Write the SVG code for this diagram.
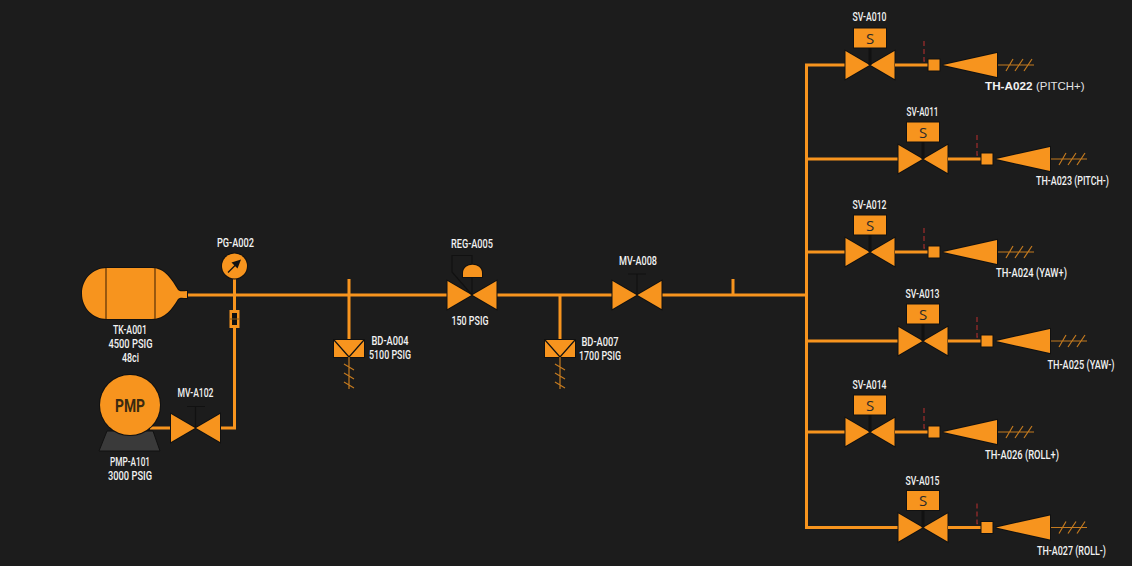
<svg xmlns="http://www.w3.org/2000/svg" width="1132" height="566" viewBox="0 0 1132 566">
<style>
.p{fill:none;stroke:#f7941e;stroke-width:3}
.f{fill:#f7941e;stroke:#111;stroke-width:2;paint-order:stroke}
.k{fill:none;stroke:#111;stroke-width:1.2}
.h{fill:none;stroke:#c47a1f;stroke-width:1.2}
.d{fill:none;stroke:#8e2a2a;stroke-width:1.4;stroke-dasharray:5 3}
text{font-family:"Roboto","Liberation Sans",sans-serif;font-size:12px;font-weight:500;fill:#f2f2f2;text-anchor:middle}
.s{font-family:"Open Sans","Liberation Sans",sans-serif;font-size:15px;font-weight:400;fill:#2a2a2a}
.w{font-family:"Liberation Sans",Arial,sans-serif;font-size:11.500px;font-weight:700;text-anchor:start}
.n{font-family:"Liberation Sans",Arial,sans-serif;font-size:11.500px;font-weight:400;text-anchor:start;fill:#e4e4e4}
</style>
<defs>
<g id="valve"><path class="f" d="M-24.500-14L-.5 0L-24.500 14ZM24.500-14L.5 0L24.500 14Z"/></g>
<g id="sol"><use href="#valve"/><path d="M0-18V0" stroke="#111" stroke-width="3"/><rect class="f" x="-16" y="-36.500" width="32" height="19"/><text class="s" x="0" y="-21.500">S</text></g>
<g id="thr"><path class="d" d="M54-24V-4H58"/><path class="p" d="M25 0H58"/><rect class="f" x="58.500" y="-5.500" width="11" height="11"/><path class="f" d="M73 0L127-12V12Z"/><path class="h" d="M128 0H164M136 6L143-6M145 6L153-6M154 6L162-6"/></g>
<g id="bd"><rect class="f" x="-15" y="0" width="30" height="17"/><path class="k" d="M-15 0L0 17L15 0"/><path class="h" d="M0 17V49M-5 24L5 30M-5 33L5 39M-5 42L5 48"/></g>
</defs>
<rect width="1132" height="566" fill="#1c1c1c"/>
<g id="connectors">
<path class="p" d="M186 295H448M496 295H613M661 295H806M234.500 279V428H220M172 428H150M349 279V342M560 295V342M733 279V295"/>
<path class="p" d="M846 65H806.500V527.500H899M806 159H899M806 252H846M806 341H899M806 432H846"/>
</g>
<g id="TK-A001"><path class="f" d="M107 268H152C165 268 172 280 178 290C180 292 183 291 187 291V298C183 298 180 297 178 299C172 309 165 319 152 319H107C93 319 82 308 82 293.500C82 279 93 268 107 268Z"/><path d="M106 268V319M155 268V319" stroke="#5a3208" stroke-width="1.200"/><text x="130" y="334" textLength="34" lengthAdjust="spacingAndGlyphs">TK-A001</text><text x="130.500" y="348" textLength="44" lengthAdjust="spacingAndGlyphs">4500 PSIG</text><text x="130.500" y="362" textLength="17" lengthAdjust="spacingAndGlyphs">48ci</text></g>
<g id="PG-A002"><circle class="f" cx="234.500" cy="266" r="12.500"/><path d="M228 272.500L237 263.500" stroke="#111" stroke-width="1.300"/><path d="M241 259.500L231.500 262.500L237.500 268.500Z" fill="#111"/><text x="235.500" y="247" textLength="37" lengthAdjust="spacingAndGlyphs">PG-A002</text></g>
<g id="sight"><rect x="229.500" y="310" width="10" height="18" fill="#f7941e"/><rect x="232" y="313" width="5" height="12" fill="#111"/><path d="M229 319H240" stroke="#8a5a1a" stroke-width="1"/></g>
<g id="PMP-A101"><path d="M107 431L153 431L160 451H99Z" fill="#3a3a3a" stroke="#111"/><circle class="f" cx="130" cy="405" r="30"/><text x="130" y="412" style="font-size:19px;font-weight:700;fill:#3a2a10" textLength="30" lengthAdjust="spacingAndGlyphs">PMP</text><text x="130" y="466" textLength="40" lengthAdjust="spacingAndGlyphs">PMP-A101</text><text x="130" y="480" textLength="44" lengthAdjust="spacingAndGlyphs">3000 PSIG</text></g>
<g id="MV-A102"><use href="#valve" x="195.500" y="428"/><path class="k" d="M195.500 428V406.500M187 406.500H205"/><text x="195.500" y="397" textLength="36" lengthAdjust="spacingAndGlyphs">MV-A102</text></g>
<g id="BD-A004"><use href="#bd" x="349" y="340"/><text x="390" y="345" textLength="37" lengthAdjust="spacingAndGlyphs">BD-A004</text><text x="390" y="359" textLength="42" lengthAdjust="spacingAndGlyphs">5100 PSIG</text></g>
<g id="REG-A005"><use href="#valve" x="472" y="295"/><path class="k" d="M472 295L452 272V255.500H472V265M472 277V295"/><path class="f" d="M463 277V273C463 262 482 262 482 273V277Z"/><text x="472" y="248" textLength="42" lengthAdjust="spacingAndGlyphs">REG-A005</text><text x="470" y="325" textLength="37" lengthAdjust="spacingAndGlyphs">150 PSIG</text></g>
<g id="BD-A007"><use href="#bd" x="560" y="340"/><text x="600" y="346" textLength="37" lengthAdjust="spacingAndGlyphs">BD-A007</text><text x="600" y="360" textLength="42" lengthAdjust="spacingAndGlyphs">1700 PSIG</text></g>
<g id="MV-A008"><use href="#valve" x="637" y="295"/><path class="k" d="M637 295V274M628 274H646"/><text x="638" y="265" textLength="38" lengthAdjust="spacingAndGlyphs">MV-A008</text></g>
<g id="SV-A010"><use href="#sol" x="870" y="65"/><use href="#thr" x="870" y="65"/><text x="869.500" y="21" textLength="34" lengthAdjust="spacingAndGlyphs">SV-A010</text><text class="w" x="985" y="90" textLength="47.500" lengthAdjust="spacingAndGlyphs">TH-A022</text><text class="n" x="1036" y="90" textLength="48.500" lengthAdjust="spacingAndGlyphs">(PITCH+)</text></g>
<g id="SV-A011"><use href="#sol" x="923" y="159"/><use href="#thr" x="923" y="159"/><text x="922.500" y="116" textLength="32" lengthAdjust="spacingAndGlyphs">SV-A011</text><text x="1072.500" y="184.500" textLength="73" lengthAdjust="spacingAndGlyphs">TH-A023 (PITCH-)</text></g>
<g id="SV-A012"><use href="#sol" x="870" y="252"/><use href="#thr" x="870" y="252"/><text x="869.500" y="209" textLength="34" lengthAdjust="spacingAndGlyphs">SV-A012</text><text x="1031.500" y="277" textLength="71" lengthAdjust="spacingAndGlyphs">TH-A024 (YAW+)</text></g>
<g id="SV-A013"><use href="#sol" x="923" y="341"/><use href="#thr" x="923" y="341"/><text x="922.500" y="298" textLength="34" lengthAdjust="spacingAndGlyphs">SV-A013</text><text x="1081" y="368.500" textLength="67" lengthAdjust="spacingAndGlyphs">TH-A025 (YAW-)</text></g>
<g id="SV-A014"><use href="#sol" x="870" y="432"/><use href="#thr" x="870" y="432"/><text x="869.500" y="389" textLength="34" lengthAdjust="spacingAndGlyphs">SV-A014</text><text x="1022" y="458.500" textLength="74" lengthAdjust="spacingAndGlyphs">TH-A026 (ROLL+)</text></g>
<g id="SV-A015"><use href="#sol" x="923" y="527.500"/><use href="#thr" x="923" y="527.500"/><text x="922.500" y="485" textLength="34" lengthAdjust="spacingAndGlyphs">SV-A015</text><text x="1071.500" y="555" textLength="69" lengthAdjust="spacingAndGlyphs">TH-A027 (ROLL-)</text></g>
</svg>
